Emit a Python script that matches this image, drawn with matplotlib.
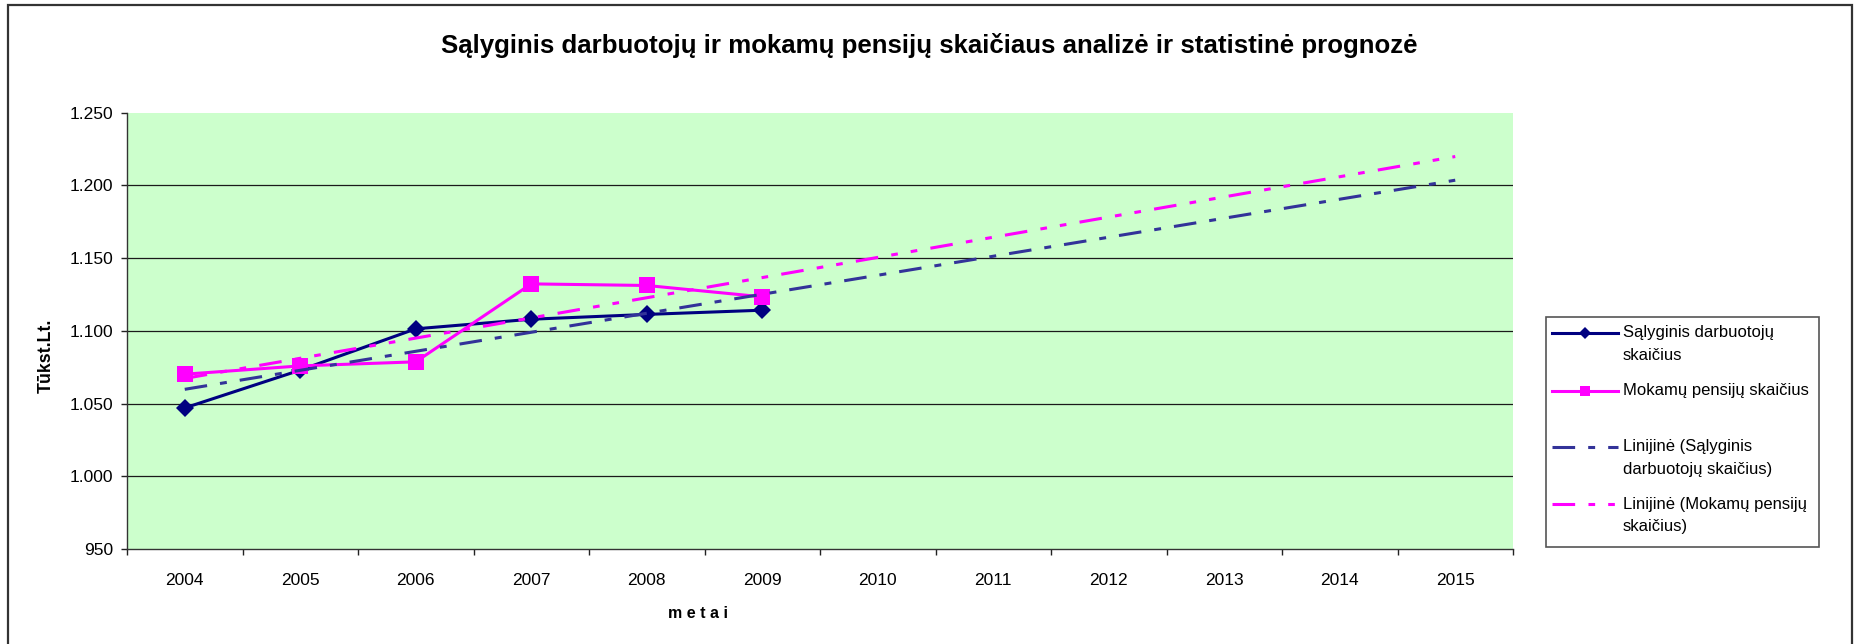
import numpy as np
import matplotlib
matplotlib.use('Agg')
import matplotlib.pyplot as plt
from matplotlib.lines import Line2D
from matplotlib.patches import Rectangle
from matplotlib.ticker import FixedLocator, FuncFormatter

# Data
# --------------
years = ['2004', '2005', '2006', '2007', '2008', '2009',
         '2010', '2011', '2012', '2013', '2014', '2015']
darbuotoju = [1047, 1073, 1101.4, 1108, 1111.3, 1114.2]
pensiju = [1070.2, 1075.9, 1078.7, 1132.3, 1131.2, 1123.4]
y_ticks = [950, 1000, 1050, 1100, 1150, 1200, 1250]

title = 'Sąlyginis darbuotojų ir mokamų pensijų skaičiaus analizė ir statistinė prognozė'
labels = ['Sąlyginis darbuotojų\nskaičius',
          'Mokamų pensijų skaičius',
          'Linijinė (Sąlyginis\ndarbuotojų skaičius)',
          'Linijinė (Mokamų pensijų\nskaičius)']

# Styles
# --------------
navy = '#000080'
navy_trend = '#333399'
magenta = '#FF00FF'
bg = '#CCFFCC'
W, H = 1859, 644
navy_dash = (0, (16.3, 9.4, 5.0, 9.4))
mag_dash = (0, (16.3, 9.6, 4.8, 9.4, 4.8, 9.6))

plt.rcParams['font.family'] = ['Liberation Sans', 'DejaVu Sans']
plt.rcParams['lines.scale_dashes'] = False


def fx(px):
    return px / W


def fy(py):
    return 1 - py / H


# Linear trendlines (like Excel) over the observed years, extended to 2015
x_obs = np.arange(len(darbuotoju))
x_all = np.arange(len(years))
trend_d = np.polyval(np.polyfit(x_obs, darbuotoju, 1), x_all)
trend_p = np.polyval(np.polyfit(x_obs, pensiju, 1), x_all)

fig = plt.figure(figsize=(W / 100, H / 100), dpi=100)
ax = fig.add_axes([fx(127), fy(549), fx(1513 - 127), (549 - 112.7) / H])
ax.set_facecolor(bg)

ax.plot(x_obs, darbuotoju, color=navy, lw=2.2, marker='D', markersize=9,
        markeredgewidth=0, zorder=3)
ax.plot(x_obs, pensiju, color=magenta, lw=2.2, marker='s', markersize=11.8,
        markeredgewidth=0, zorder=3)
ax.plot(x_all, trend_d, color=navy_trend, lw=2.2, linestyle=navy_dash, zorder=4)
ax.plot(x_all, trend_p, color=magenta, lw=2.2, linestyle=mag_dash, zorder=4)

# axes
ax.set_xlim(-0.5, len(years) - 0.5)
ax.set_ylim(950, 1250)
ax.xaxis.set_major_locator(FixedLocator(np.arange(len(years) + 1) - 0.5))
ax.xaxis.set_minor_locator(FixedLocator(x_all))
ax.set_xticklabels([])
ax.set_xticklabels(years, minor=True)
ax.tick_params(axis='x', which='major', length=4, width=1, color='#222222', direction='out')
ax.tick_params(axis='x', which='minor', length=0, pad=17, labelsize=12.5)
ax.set_yticks(y_ticks)
ax.yaxis.set_major_formatter(FuncFormatter(lambda v, p: f'{int(v):,}'.replace(',', '.')))
ax.tick_params(axis='y', length=4, width=1, color='#222222', pad=6, labelsize=12.5)

for s in ['top', 'right']:
    ax.spines[s].set_visible(False)
for s in ['left', 'bottom']:
    ax.spines[s].set_color('#333333')
    ax.spines[s].set_linewidth(1)

for v in y_ticks[1:-1]:
    ax.axhline(v, color='#1a1a1a', lw=0.9, zorder=1)

# texts
fig.text(0.5, fy(45), title, ha='center', va='center', fontsize=18.6, fontweight='bold')
fig.text(fx(46), fy(356), 'Tūkst.Lt.', rotation=90, ha='center', va='center',
         fontsize=12.8, fontweight='bold')
fig.text(fx(698), fy(613), 'm e t a i', ha='center', va='center', fontsize=11.5,
         fontweight='bold')

# Legend (drawn by hand, Excel layout)
fig.patches.append(Rectangle((fx(1545.7), fy(547)), fx(1819 - 1545.7), (547 - 317) / H,
                             transform=fig.transFigure, facecolor='white',
                             edgecolor='#555555', lw=1.2))
handles = [dict(color=navy, lw=2.2, marker='D', markersize=6, ls='-'),
           dict(color=magenta, lw=2.2, marker='s', markersize=7.5, ls='-'),
           dict(color=navy_trend, lw=2.2, ls=navy_dash),
           dict(color=magenta, lw=2.2, ls=mag_dash)]
rows = [333, 390.7, 446.7, 504]
for hy, st, lab in zip(rows, handles, labels):
    mk = st.pop('marker', None)
    ms = st.pop('markersize', None)
    fig.lines.append(Line2D([fx(1552), fx(1618)], [fy(hy), fy(hy)],
                            transform=fig.transFigure, **st))
    if mk:
        fig.lines.append(Line2D([fx(1585)], [fy(hy)], transform=fig.transFigure,
                                marker=mk, markersize=ms, color=st['color'],
                                markeredgewidth=0, ls='none'))
    for i, line in enumerate(lab.split('\n')):
        fig.text(fx(1623), fy(hy + i * 23), line, ha='left', va='center', fontsize=12)

# outer chart border
fig.patches.append(Rectangle((fx(8), -0.1), fx(1852 - 8), 1.1 - 5 / H,
                             transform=fig.transFigure, fill=False,
                             edgecolor='#333333', lw=1.6))

plt.savefig('out.png', dpi=100, facecolor='white')
